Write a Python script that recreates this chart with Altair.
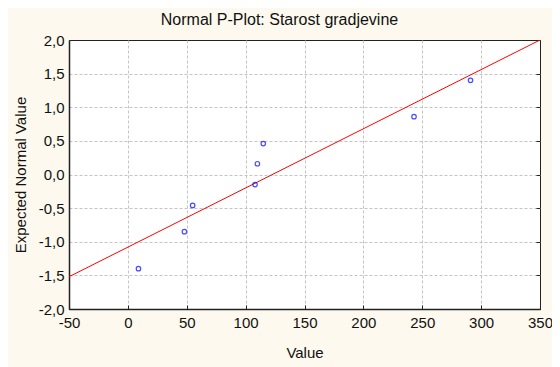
import altair as alt
import pandas as pd

# Observed values (x) and expected normal values (y)
obs_values = [9, 48, 55, 108, 110, 115, 243, 291]
expected_normal = [-1.40, -0.85, -0.46, -0.15, 0.16, 0.46, 0.86, 1.40]

# Reference (fit) line end points
fit_x = [-50, 350]
fit_y = [-1.52, 2.0]

x_ticks = [-50, 0, 50, 100, 150, 200, 250, 300, 350]
y_ticks = [-2.0, -1.5, -1.0, -0.5, 0.0, 0.5, 1.0, 1.5, 2.0]

pts = pd.DataFrame({"x": obs_values, "y": expected_normal})
fit = pd.DataFrame({"x": fit_x, "y": fit_y})

FONT = "Liberation Sans"
W, H = 471, 269

xscale = alt.Scale(domain=[-50, 350], nice=False, zero=False)
yscale = alt.Scale(domain=[-2, 2], nice=False, zero=False)

ylab = "replace(replace(format(datum.value, '.1f'), '.', ','), '\u2212', '-')"
xlab = "replace(format(datum.value, 'd'), '\u2212', '-')"

xgrid_op = {"condition": {"test": "datum.value >= 350 || datum.value <= -50", "value": 0}, "value": 1}
ygrid_op = {"condition": {"test": "datum.value >= 2 || datum.value <= -2", "value": 0}, "value": 1}

xaxis = alt.Axis(values=x_ticks, labelExpr=xlab, title="Value", ticks=False,
                 grid=True, gridDash=[3, 2], gridColor="#c4c4c4", gridWidth=1,
                 gridOpacity=xgrid_op,
                 domainColor="#222222", domainWidth=1.5, labelPadding=6,
                 labelFont=FONT, labelFontSize=15, labelColor="#111111",
                 titleFont=FONT, titleFontSize=15, titleFontWeight="normal",
                 titleColor="#111111", titleBaseline="alphabetic", titleY=48,
                 labelFlush=False, labelOverlap=False)
yaxis = alt.Axis(values=y_ticks, labelExpr=ylab, title="Expected Normal Value",
                 ticks=False, grid=True, gridDash=[3, 2], gridColor="#c4c4c4",
                 gridWidth=1, gridOpacity=ygrid_op,
                 domainColor="#222222", domainWidth=1.5, labelPadding=5,
                 labelFont=FONT, labelFontSize=15, labelColor="#111111",
                 titleFont=FONT, titleFontSize=15, titleFontWeight="normal",
                 titleColor="#111111", titleAngle=270, titleBaseline="alphabetic",
                 titleX=-44, titleY=H / 2, titleAlign="center",
                 labelFlush=False, labelOverlap=False)

points = alt.Chart(pts).mark_point(
    shape="circle", filled=False, color="#0000ff", size=20, strokeWidth=1.2
).encode(
    x=alt.X("x:Q", scale=xscale, axis=xaxis),
    y=alt.Y("y:Q", scale=yscale, axis=yaxis),
)

line = alt.Chart(fit).mark_line(color="#ff0000", strokeWidth=1, clip=True).encode(
    x=alt.X("x:Q", scale=xscale, axis=None),
    y=alt.Y("y:Q", scale=yscale, axis=None),
)

# inner ticks on the bottom and right edges
inner_ticks = alt.Chart(pts).mark_point(opacity=0).encode(
    x=alt.X("x:Q", scale=xscale,
            axis=alt.Axis(orient="top", offset=-H, values=x_ticks, labels=False,
                          domain=False, grid=False, ticks=True, tickSize=4,
                          tickColor="#222222", title=None)),
    y=alt.Y("y:Q", scale=yscale,
            axis=alt.Axis(orient="left", offset=-W, values=y_ticks, labels=False,
                          domain=False, grid=False, ticks=True, tickSize=4,
                          tickColor="#222222", title=None)),
)

chart = alt.layer(line, points, inner_ticks).resolve_axis(
    x="independent", y="independent"
).properties(
    width=W,
    height=H,
    autosize=alt.AutoSizeParams(type="none"),
    padding={"left": 61, "top": 32, "right": 12, "bottom": 58},
    background="#fdf9ee",
    title=alt.TitleParams("Normal P-Plot: Starost gradjevine", font=FONT,
                          fontSize=16, fontWeight="normal", color="#111111",
                          anchor="middle", baseline="alphabetic", offset=-8, dx=-25),
).configure_view(
    fill="white", stroke="#222222", strokeWidth=1
)

chart.save("out.html", embed_options={"renderer": "svg", "actions": False})
